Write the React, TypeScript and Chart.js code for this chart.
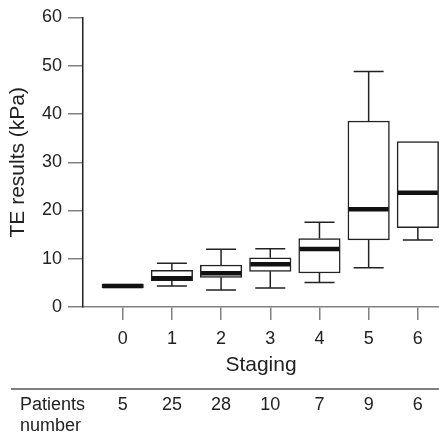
import React, { useEffect, useRef } from 'react';
import { Chart, registerables } from 'chart.js';

Chart.register(...registerables);

// ---- data ----
const stages = ['0', '1', '2', '3', '4', '5', '6'];
const stageValues = [0, 1, 2, 3, 4, 5, 6];
const mins = [3.95, 4.35, 3.5, 3.95, 5.1, 8.15, 13.9];
const q1s = [3.95, 5.45, 6.15, 7.4, 7.05, 13.9, 16.45];
const medians = [4.35, 5.95, 7.0, 8.85, 12.0, 20.25, 23.7];
const q3s = [4.75, 7.6, 8.7, 10.2, 14.2, 38.55, 34.3];
const maxs = [4.75, 9.05, 11.95, 12.05, 17.55, 48.8, 34.3];
const patients = [5, 25, 28, 10, 7, 9, 6];
const yTicks = [0, 10, 20, 30, 40, 50, 60];
const tableLabel = ['Patients', 'number'];

const FONT = "'Liberation Sans', Arial, Helvetica, sans-serif";
const DARK = '#222222';
const GREY = '#808080';

export default function App() {
  const ref = useRef<HTMLCanvasElement>(null);

  useEffect(() => {
    const canvas = ref.current;
    if (!canvas) return;

    const boxPlugin = {
      id: 'boxExtras',
      beforeDatasetsDraw(chart: any) {
        const { ctx, scales } = chart;
        const x = scales.x;
        const y = scales.y;
        ctx.save();
        ctx.strokeStyle = DARK;
        ctx.lineWidth = 1.5;
        const capHalf = 15;
        stageValues.forEach((s, i) => {
          const cx = x.getPixelForValue(s);
          if (maxs[i] > q3s[i]) {
            ctx.beginPath();
            ctx.moveTo(cx, y.getPixelForValue(q3s[i]));
            ctx.lineTo(cx, y.getPixelForValue(maxs[i]));
            ctx.moveTo(cx - capHalf, y.getPixelForValue(maxs[i]));
            ctx.lineTo(cx + capHalf, y.getPixelForValue(maxs[i]));
            ctx.stroke();
          }
          if (mins[i] < q1s[i]) {
            ctx.beginPath();
            ctx.moveTo(cx, y.getPixelForValue(q1s[i]));
            ctx.lineTo(cx, y.getPixelForValue(mins[i]));
            ctx.moveTo(cx - capHalf, y.getPixelForValue(mins[i]));
            ctx.lineTo(cx + capHalf, y.getPixelForValue(mins[i]));
            ctx.stroke();
          }
        });
        ctx.restore();
      },
      afterDatasetsDraw(chart: any) {
        const { ctx, scales } = chart;
        const y = scales.y;
        const meta = chart.getDatasetMeta(0);
        ctx.save();
        ctx.strokeStyle = '#111111';
        ctx.lineWidth = 4.5;
        meta.data.forEach((el: any, i: number) => {
          const w = el.width;
          const py = y.getPixelForValue(medians[i]);
          ctx.beginPath();
          ctx.moveTo(el.x - w / 2 + 0.75, py);
          ctx.lineTo(el.x + w / 2 - 0.75, py);
          ctx.stroke();
        });
        ctx.restore();
      },
      afterDraw(chart: any) {
        const { ctx, scales } = chart;
        const x = scales.x;
        ctx.save();
        ctx.strokeStyle = '#555555';
        ctx.lineWidth = 1.5;
        ctx.beginPath();
        ctx.moveTo(11, 389);
        ctx.lineTo(439, 389);
        ctx.stroke();
        ctx.fillStyle = DARK;
        ctx.font = `18px ${FONT}`;
        ctx.textBaseline = 'middle';
        ctx.textAlign = 'left';
        ctx.fillText(tableLabel[0], 20, 405);
        ctx.fillText(tableLabel[1], 20, 426.5);
        ctx.textAlign = 'center';
        patients.forEach((p, i) => {
          ctx.fillText(String(p), x.getPixelForValue(stageValues[i]), 405);
        });
        ctx.restore();
      },
    };

    const chart = new Chart(canvas, {
      type: 'bar',
      data: {
        datasets: [
          {
            data: stageValues.map((s, i) => ({ x: s, y: [q1s[i], q3s[i]] })) as any,
            backgroundColor: '#ffffff',
            borderColor: DARK,
            borderWidth: 1.5,
            borderSkipped: false,
            barThickness: 41.5,
          },
        ],
      },
      options: {
        responsive: false,
        animation: false,
        devicePixelRatio: 1,
        layout: { padding: { top: 17.5, left: 0, right: 0, bottom: 0 } },
        plugins: {
          legend: { display: false },
          tooltip: { enabled: false },
        },
        scales: {
          x: {
            type: 'linear',
            offset: false,
            min: -0.807,
            max: 6.43,
            afterBuildTicks: (scale: any) => {
              scale.ticks = stageValues.map((v) => ({ value: v }));
            },
            afterFit: (scale: any) => {
              scale.height = 128;
            },
            ticks: {
              callback: (v: any) => stages[stageValues.indexOf(Number(v))] ?? '',
              color: DARK,
              font: { family: FONT, size: 18 },
              padding: 8,
              maxRotation: 0,
              autoSkip: false,
            },
            grid: {
              display: true,
              offset: false,
              drawOnChartArea: false,
              drawTicks: true,
              tickLength: 13,
              tickColor: GREY,
              lineWidth: 1.5,
            },
            border: { display: true, color: GREY, width: 1.5 },
            title: {
              display: true,
              text: 'Staging',
              color: DARK,
              font: { family: FONT, size: 21 },
              padding: { top: 0, bottom: 57 },
            },
          },
          y: {
            type: 'linear',
            min: 0,
            max: 60,
            afterBuildTicks: (scale: any) => {
              scale.ticks = yTicks.map((v) => ({ value: v }));
            },
            afterFit: (scale: any) => {
              scale.width = 83;
            },
            ticks: {
              color: DARK,
              font: { family: FONT, size: 18 },
              padding: 6,
            },
            grid: {
              display: true,
              drawOnChartArea: false,
              drawTicks: true,
              tickLength: 15,
              tickColor: GREY,
              lineWidth: 1.5,
            },
            border: { display: true, color: DARK, width: 1.5 },
            title: {
              display: true,
              text: 'TE results (kPa)',
              color: DARK,
              font: { family: FONT, size: 21 },
              padding: { top: 5.8, bottom: 0 },
            },
          },
        },
      },
      plugins: [boxPlugin],
    });

    return () => chart.destroy();
  }, []);

  return (
    <div style={{ position: 'fixed', left: 0, top: 0, width: 439, height: 435, background: '#ffffff' }}>
      <canvas ref={ref} width={439} height={435} style={{ display: 'block', width: 439, height: 435 }} />
    </div>
  );
}
